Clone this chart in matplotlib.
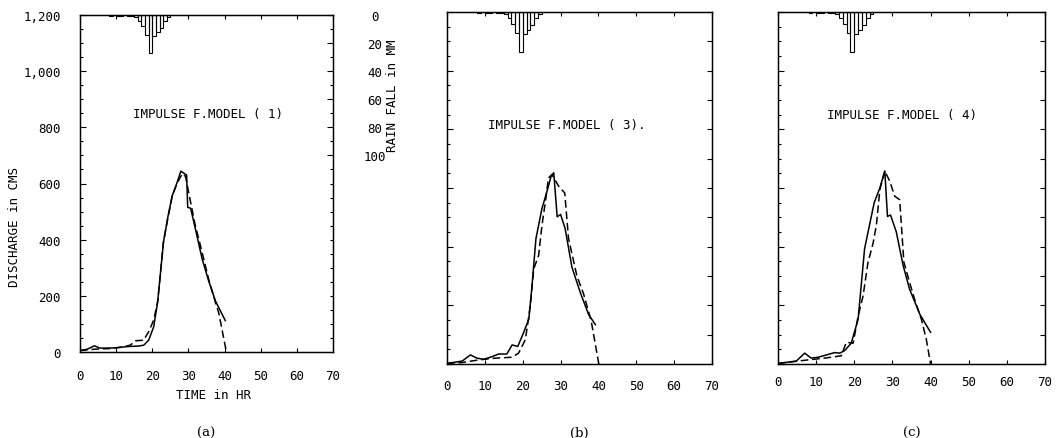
import numpy as np
import matplotlib
matplotlib.use("Agg")
import matplotlib.pyplot as plt
import matplotlib.transforms as mtransforms

plt.rcParams['font.family'] = ['DejaVu Sans Mono']

# -------- DATA --------
rain_hr = [8, 10, 11, 13, 14, 15, 16, 17, 18, 19, 20, 21, 22, 23, 24]
rain_mm = [0.5, 1, 0.5, 1, 1, 1.5, 4, 8, 14, 27, 15, 12, 9, 4, 1.5]

# panel (a) model 1
a_solid_t = [0, 2, 4, 5.5, 8, 10, 12, 14, 16, 17.6, 19, 20.4, 21.5, 23.1, 24.3,
             25.5, 26.9, 27.9, 29.5, 29.8, 30.6, 31.9, 33.8, 35.6, 37.5, 40.2]
a_solid_q = [5, 10, 22, 14, 14, 15, 18, 20, 21, 24, 42, 90, 180, 392, 480,
             556, 605, 644, 630, 515, 512, 440, 331, 253, 181, 112]
a_dash_t = [0, 4, 8, 12, 14, 15.3, 17.6, 19, 20.4, 21.5, 23.1, 24.3, 25.5,
            26.9, 28.3, 29.2, 30.5, 31.9, 33.3, 35.6, 37.5, 38.4, 40.5]
a_dash_q = [5, 10, 12, 18, 25, 40, 42, 72, 114, 180, 392, 476, 554,
            602, 635, 625, 540, 450, 380, 259, 175, 139, 0]

# panel (b) model 3
b_solid_t = [0, 4, 6.2, 7.9, 9.7, 11.9, 13.6, 15.8, 17.2, 18.7, 20.2, 21.6, 22.3,
             23.5, 25.1, 26.4, 27.5, 28.2, 29.1, 30, 31.2, 33, 35.2, 37.4, 39.2]
b_solid_q = [2, 10, 31, 20, 16, 25, 34, 34, 65, 60, 106, 152, 244,
             428, 531, 588, 640, 652, 502, 510, 462, 330, 244, 169, 134]
b_dash_t = [0, 4, 8.4, 12.8, 17.2, 18.9, 20.7, 22, 22.9, 24.2, 25.1, 26, 26.8,
            27.7, 29.5, 31.1, 32.1, 34.3, 36.1, 38.1, 40.1]
b_dash_q = [2, 5, 14, 20, 23, 37, 83, 198, 324, 370, 474, 554, 634,
            646, 606, 583, 428, 301, 238, 146, 0]

# panel (c) model 4
c_solid_t = [0, 4.8, 7, 8.7, 10.5, 12.7, 14.9, 16.2, 17.5, 19.2, 21, 22.7, 24,
             25.2, 26.7, 28, 28.7, 29.5, 31, 32.8, 34.5, 37.2, 40]
c_solid_q = [2, 10, 37, 20, 23, 31, 39, 37, 46, 71, 152, 393, 474,
             549, 600, 658, 503, 508, 451, 336, 255, 169, 108]
c_dash_t = [0, 7.9, 12.2, 16.6, 17.9, 19.7, 21, 22.3, 23.6, 24.9, 25.8, 26.7,
            28, 29.3, 30.6, 31.9, 33, 34.5, 35.8, 37.6, 38.9, 40]
c_dash_q = [2, 14, 20, 28, 74, 71, 163, 232, 347, 410, 474, 594,
            658, 623, 572, 560, 347, 278, 221, 152, 83, 0]

titles = ["IMPULSE F.MODEL ( 1)", "IMPULSE F.MODEL ( 3).", "IMPULSE F.MODEL ( 4)"]
captions = ["(a)", "(b)", "(c)"]
q_ticks = [0, 200, 400, 600, 800, 1000, 1200]
q_labels = ["0", "200", "400", "600", "800", "1,000", "1,200"]
t_ticks = [0, 10, 20, 30, 40, 50, 60, 70]
rain_ticks = [0, 20, 40, 60, 80, 100]

# -------- FIGURE --------
W, H = 1057, 439
fig = plt.figure(figsize=(W / 100, H / 100), dpi=100)

def box(l, r, t, b):
    return [l / W, 1 - b / H, (r - l) / W, (b - t) / H]

rects = [box(80, 333, 16, 353), box(447, 712, 13, 365), box(778, 1045, 13, 365)]
series = [(a_solid_t, a_solid_q, a_dash_t, a_dash_q),
          (b_solid_t, b_solid_q, b_dash_t, b_dash_q),
          (c_solid_t, c_solid_q, c_dash_t, c_dash_q)]
title_pos = [(35.5, 850), (31.5, 817), (32.5, 851)]
xlab_pad = [12, 11, 8]

for i, (rect, (st, sq, dt, dq)) in enumerate(zip(rects, series)):
    ax = fig.add_axes(rect)
    ax.plot(st, sq, color='black', lw=1.1)
    ax.plot(dt, dq, color='black', lw=1.1, dashes=(5, 2.5))
    ax.set_xlim(0, 70)
    ax.set_ylim(0, 1200)
    ax.set_xticks(t_ticks)
    ax.set_yticks(q_ticks)
    ax.set_yticks(np.arange(0, 1201, 50), minor=True)
    ax.tick_params(axis='both', which='both', direction='in', top=True,
                   right=False, labelsize=9, width=0.8)
    ax.tick_params(axis='y', which='major', length=4, pad=14)
    ax.tick_params(axis='y', which='minor', length=2.5)
    ax.tick_params(axis='x', which='major', length=3, pad=xlab_pad[i])
    if i == 0:
        ax.set_yticklabels(q_labels)
    else:
        ax.set_yticklabels([])
    for s in ax.spines.values():
        s.set_linewidth(1.0)

    ax.text(*title_pos[i], titles[i], fontsize=9, ha='center', va='center')

    # rainfall hyetograph hanging from the top
    ax2 = ax.twinx()
    ax2.bar(rain_hr, rain_mm, width=1, align='edge', fill=False,
            edgecolor='black', lw=0.8)
    ax2.set_ylim(240, 0)
    ax2.tick_params(axis='y', which='both', direction='in', width=0.8)
    if i == 0:
        ax2.set_yticks(rain_ticks)
        ax2.set_yticks(np.arange(0, 240, 10), minor=True)
        ax2.tick_params(axis='y', which='major', length=4, labelsize=9, pad=30)
        ax2.tick_params(axis='y', which='minor', length=2.5)
        for lab in ax2.get_yticklabels():
            lab.set_horizontalalignment('center')
        tr = mtransforms.blended_transform_factory(ax2.transAxes, ax2.transData)
        ax2.text(1.235, 57, "RAIN FALL in MM", transform=tr, rotation=90,
                 ha='center', va='center', fontsize=9)
        tr1 = mtransforms.blended_transform_factory(ax.transAxes, ax.transData)
        ax.text(-0.26, 450, "DISCHARGE in CMS", transform=tr1, rotation=90,
                ha='center', va='center', fontsize=9)
        ax.text(37, -150, "TIME in HR", ha='center', va='center', fontsize=9)
    else:
        ax2.set_yticks(np.arange(0, 240, 20))
        ax2.tick_params(axis='y', which='major', length=3.5)
        ax2.set_yticklabels([])

    cx = (rect[0] + rect[2] / 2)
    fig.text(cx, 1 - 433 / H, captions[i], ha='center', va='center',
             fontsize=9.5, family='DejaVu Serif')

fig.savefig("out.png", dpi=100)
